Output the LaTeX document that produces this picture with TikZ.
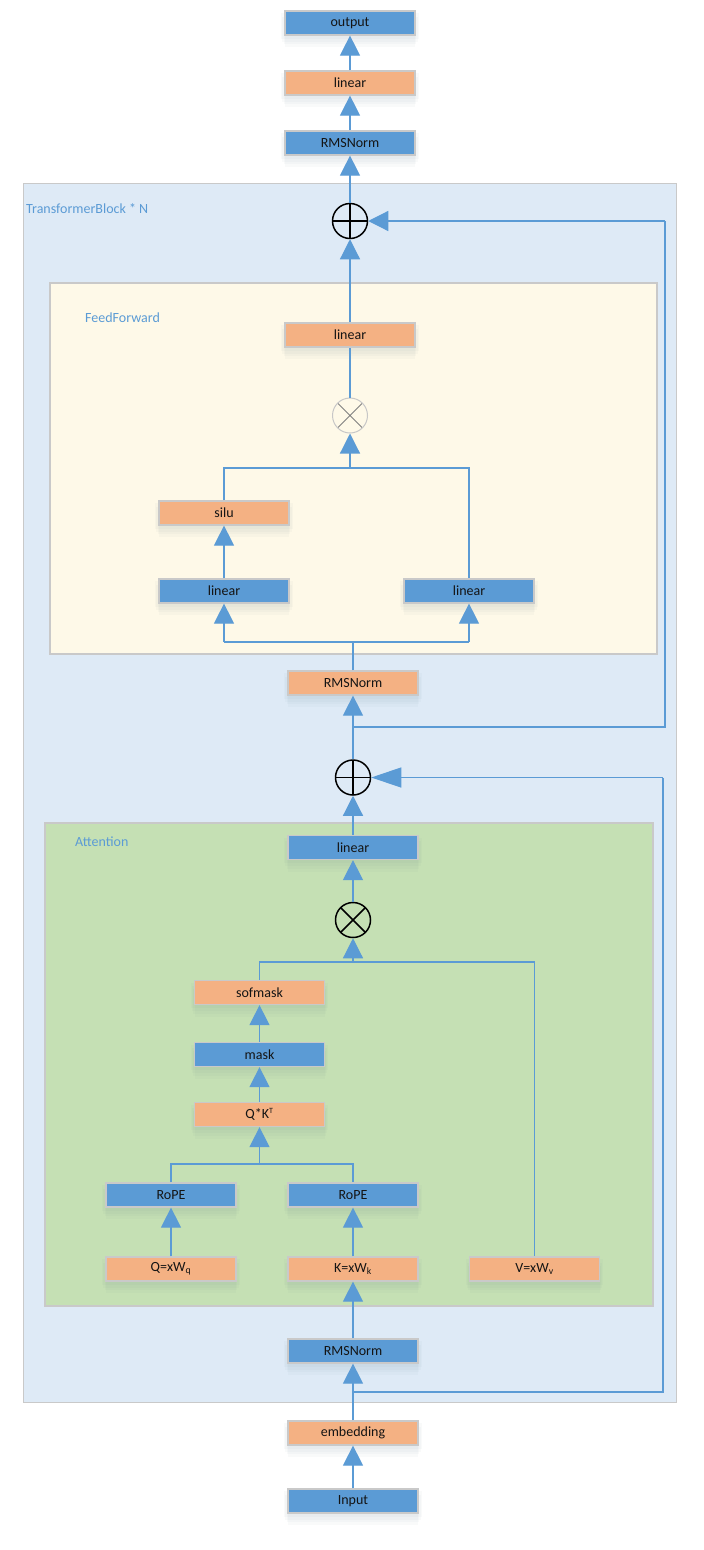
\documentclass[tikz,border=0pt]{standalone}
\usepackage{fontspec}
\setmainfont{Carlito}
\usetikzlibrary{arrows.meta,shadows}
\definecolor{bbox}{HTML}{5B9BD5}
\definecolor{obox}{HTML}{F4B183}
\definecolor{edgec}{HTML}{5B9BD5}
\definecolor{bordc}{HTML}{C9C9C9}
\definecolor{tbfill}{HTML}{DEEAF6}
\definecolor{fffill}{HTML}{FEF9E8}
\definecolor{atfill}{HTML}{C5E0B4}
\definecolor{txt}{HTML}{141414}
\definecolor{shc}{HTML}{5A7A8A}
\begin{document}
\begin{tikzpicture}[x=1pt,y=-1pt,
  softshadow/.style={
    general shadow={fill=shc,opacity=0.035,shadow yshift=-3pt,shadow xshift=0pt,shadow scale=1.06},
    general shadow={fill=shc,opacity=0.035,shadow yshift=-6pt,shadow xshift=0pt,shadow scale=1.04},
    general shadow={fill=shc,opacity=0.035,shadow yshift=-9pt,shadow xshift=0pt,shadow scale=1.02},
    general shadow={fill=shc,opacity=0.035,shadow yshift=-12pt,shadow xshift=0pt,shadow scale=1.0}},
  box/.style={minimum width=130pt,minimum height=24pt,inner sep=0pt,draw=bordc,line width=1.2pt,
    font=\fontsize{14}{16}\selectfont,text=txt,softshadow},
  bluebox/.style={box,fill=bbox},
  orbox/.style={box,fill=obox},
  conn/.style={draw=edgec,line width=1.2pt},
  arr/.style={conn,-{Triangle[width=20pt,length=20pt]}},
  arrlong/.style={conn,-{Triangle[width=20pt,length=30pt]}},
  plus/.style={circle,draw=black,line width=1.5pt,minimum size=35pt,inner sep=0pt,
    path picture={\draw[black,line width=1.5pt] (path picture bounding box.north) -- (path picture bounding box.south)
      (path picture bounding box.west) -- (path picture bounding box.east);}},
  timesb/.style={circle,draw=black,line width=1.5pt,minimum size=35pt,inner sep=0pt,
    path picture={\draw[black,line width=1.5pt]
      ([shift={(-12.4pt,-12.4pt)}]path picture bounding box.center) -- ([shift={(12.4pt,12.4pt)}]path picture bounding box.center)
      ([shift={(-12.4pt,12.4pt)}]path picture bounding box.center) -- ([shift={(12.4pt,-12.4pt)}]path picture bounding box.center);}},
  timesg/.style={circle,draw=black!22,line width=1pt,minimum size=35pt,inner sep=0pt,
    path picture={\draw[black!50,line width=1pt]
      ([shift={(-12.4pt,-12.4pt)}]path picture bounding box.center) -- ([shift={(12.4pt,12.4pt)}]path picture bounding box.center)
      ([shift={(-12.4pt,12.4pt)}]path picture bounding box.center) -- ([shift={(12.4pt,-12.4pt)}]path picture bounding box.center);}},
  grplabel/.style={anchor=west,inner sep=0pt,text=bbox,font=\fontsize{14}{16}\selectfont}
]
\useasboundingbox (0,0) rectangle (704,1550);
\fill[white] (0,0) rectangle (704,1550);
% containers
\draw[bordc,line width=1pt,fill=tbfill] (23,183) rectangle (676,1402);
\node[grplabel] (tblabel) at (26,209) {TransformerBlock * N};
\draw[bordc,line width=1.2pt,fill=fffill] (50,283) rectangle (657,654);
\node[grplabel] (fflabel) at (85,318) {FeedForward};
\draw[bordc,line width=1.2pt,fill=atfill] (45,823) rectangle (653,1306);
\node[grplabel] (atlabel) at (75,842) {Attention};
% nodes
\node[bluebox] (out) at (350,23) {output};
\node[orbox] (lin3) at (350,83) {linear};
\node[bluebox] (rms3) at (350,143) {RMSNorm};
\node[plus] (plus1) at (350,221) {};
\node[orbox] (linff) at (350,335) {linear};
\node[timesg] (mulff) at (350,415.5) {};
\node[orbox] (silu) at (224,513) {silu};
\node[bluebox] (linL) at (224,591) {linear};
\node[bluebox] (linR) at (469,591) {linear};
\node[orbox] (rms2) at (353,683) {RMSNorm};
\node[plus] (plus2) at (353,777.5) {};
\node[bluebox] (lina) at (353,847.5) {linear};
\node[timesb] (mula) at (353,920) {};
\node[orbox] (soft) at (259.5,992.5) {sofmask};
\node[bluebox] (mask) at (259.5,1054.5) {mask};
\node[orbox] (qk) at (259.5,1114.5) {Q*K\textsuperscript{\fontsize{8}{8}\selectfont T}};
\node[bluebox] (rope1) at (171,1195) {RoPE};
\node[bluebox] (rope2) at (353,1195) {RoPE};
\node[orbox] (qx) at (171,1269) {Q=xW\textsubscript{q}};
\node[orbox] (kx) at (353,1269) {K=xW\textsubscript{k}};
\node[orbox] (vx) at (534.5,1269) {V=xW\textsubscript{v}};
\node[bluebox] (rms1) at (353,1351) {RMSNorm};
\node[orbox] (emb) at (353,1433) {embedding};
\node[bluebox] (inp) at (353,1501) {Input};
% helper coordinates
\coordinate (r1j) at (353,727);
\coordinate (r1c) at (665,727);
\coordinate (r1t) at (665,221);
\coordinate (r2j) at (353,1392);
\coordinate (r2c) at (663,1392);
\coordinate (r2t) at (663,777.5);
\coordinate (qkl) at (171,1164);
\coordinate (qkr) at (353,1164);
\coordinate (qkm) at (259.5,1164);
\coordinate (svl) at (259.5,962);
\coordinate (svr) at (534.5,962);
\coordinate (svm) at (353,962);
\coordinate (ffbm) at (353,642);
\coordinate (ffbl) at (224,642);
\coordinate (ffbr) at (469,642);
\coordinate (fftl) at (224,468);
\coordinate (fftr) at (469,468);
\coordinate (fftm) at (350,468);
% connectors
\draw[arr] (inp) -- (emb);
\draw[arr] (emb) -- (rms1);
\draw[arr] (rms1) -- (kx);
\draw[conn] (r2j) -- (r2c) -- (r2t);
\draw[arrlong] (r2t) -- (plus2);
\draw[arr] (qx) -- (rope1);
\draw[arr] (kx) -- (rope2);
\draw[conn] (rope1.north) -- (qkl) -- (qkr) -- (rope2.north);
\draw[arr] (qkm) -- (qk);
\draw[arr] (qk) -- (mask);
\draw[arr] (mask) -- (soft);
\draw[conn] (soft.north) -- (svl) -- (svr) -- (vx.north);
\draw[arr] (svm) -- (mula);
\draw[arr] (mula) -- (lina);
\draw[arr] (lina) -- (plus2);
\draw[arr] (plus2) -- (rms2);
\draw[conn] (r1j) -- (r1c) -- (r1t);
\draw[arr] (r1t) -- (plus1);
\draw[conn] (rms2.north) -- (ffbm);
\draw[conn] (ffbl) -- (ffbr);
\draw[arr] (ffbl) -- (linL);
\draw[arr] (ffbr) -- (linR);
\draw[arr] (linL) -- (silu);
\draw[conn] (silu.north) -- (fftl) -- (fftr) -- (linR.north);
\draw[arr] (fftm) -- (mulff);
\draw[conn] (mulff) -- (linff);
\draw[arr] (linff) -- (plus1);
\draw[arr] (plus1) -- (rms3);
\draw[arr] (rms3) -- (lin3);
\draw[arr] (lin3) -- (out);
\end{tikzpicture}
\end{document}
